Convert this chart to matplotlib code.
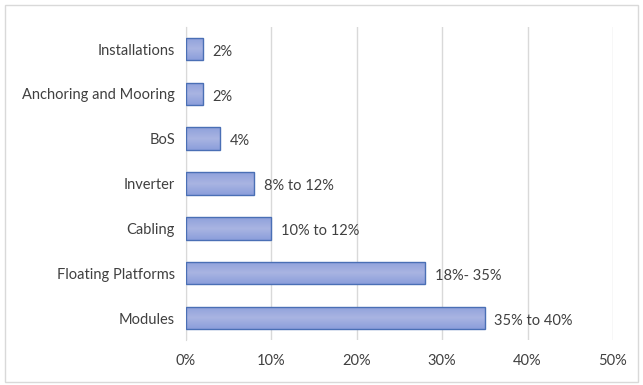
import numpy as np
import matplotlib
matplotlib.use('Agg')
import matplotlib.pyplot as plt
from matplotlib.patches import Rectangle
from matplotlib.colors import LinearSegmentedColormap

# Dados do gráfico
categorias = ['Modules', 'Floating Platforms', 'Cabling', 'Inverter', 'BoS',
              'Anchoring and Mooring', 'Installations']
valores = [35, 28, 10, 8, 4, 2, 2]
rotulos = ['35% to 40%', '18%- 35%', '10% to 12%', '8% to 12%', '4%', '2%', '2%']
ticks_x = [0, 10, 20, 30, 40, 50]

plt.rcParams['font.family'] = ['Lato', 'DejaVu Sans']

fig = plt.figure(figsize=(6.43, 3.85), dpi=100)
fig.patches.append(Rectangle((0.008, 0.008), 0.984, 0.98, transform=fig.transFigure,
                             fill=False, edgecolor='#d9d9d9', lw=1))
ax = fig.add_axes([0.2893, 0.1158, 0.9533 - 0.2893, 0.9309 - 0.1158])

y = np.arange(len(categorias))
barras = ax.barh(y, valores, height=0.5, color='none', edgecolor='#4a6fb5', lw=1, zorder=3)

# Preenchimento em degradê (mais claro no meio)
cmap = LinearSegmentedColormap.from_list('grad', ['#8b9edb', '#a9b4e2', '#8fa1db'])
grad = np.linspace(0, 1, 64).reshape(-1, 1)
for b in barras:
    x0, y0 = b.get_x(), b.get_y()
    w, h = b.get_width(), b.get_height()
    im = ax.imshow(grad, cmap=cmap, aspect='auto', extent=(x0, x0 + w, y0, y0 + h),
                   origin='lower', zorder=2)
    im.set_clip_path(b)

for yi, v, t in zip(y, valores, rotulos):
    ax.text(v + 1.1, yi - 0.06, t, va='center', ha='left', fontsize=10.5, color='#404040')

ax.set_xlim(0, 50)
ax.set_ylim(-0.5, len(categorias) - 0.5)
ax.set_xticks(ticks_x)
ax.set_xticklabels([f'{t}%' for t in ticks_x])
ax.set_yticks(y)
ax.set_yticklabels(categorias)
ax.tick_params(axis='both', length=0, labelsize=10.5, labelcolor='#404040')
ax.tick_params(axis='x', pad=10)
ax.tick_params(axis='y', pad=8)
ax.grid(axis='x', color='#d9d9d9', lw=1, zorder=0)
for s in ['top', 'right', 'bottom']:
    ax.spines[s].set_visible(False)
ax.spines['left'].set_color('#d9d9d9')
ax.set_facecolor('none')

fig.savefig('out.png', dpi=100)
